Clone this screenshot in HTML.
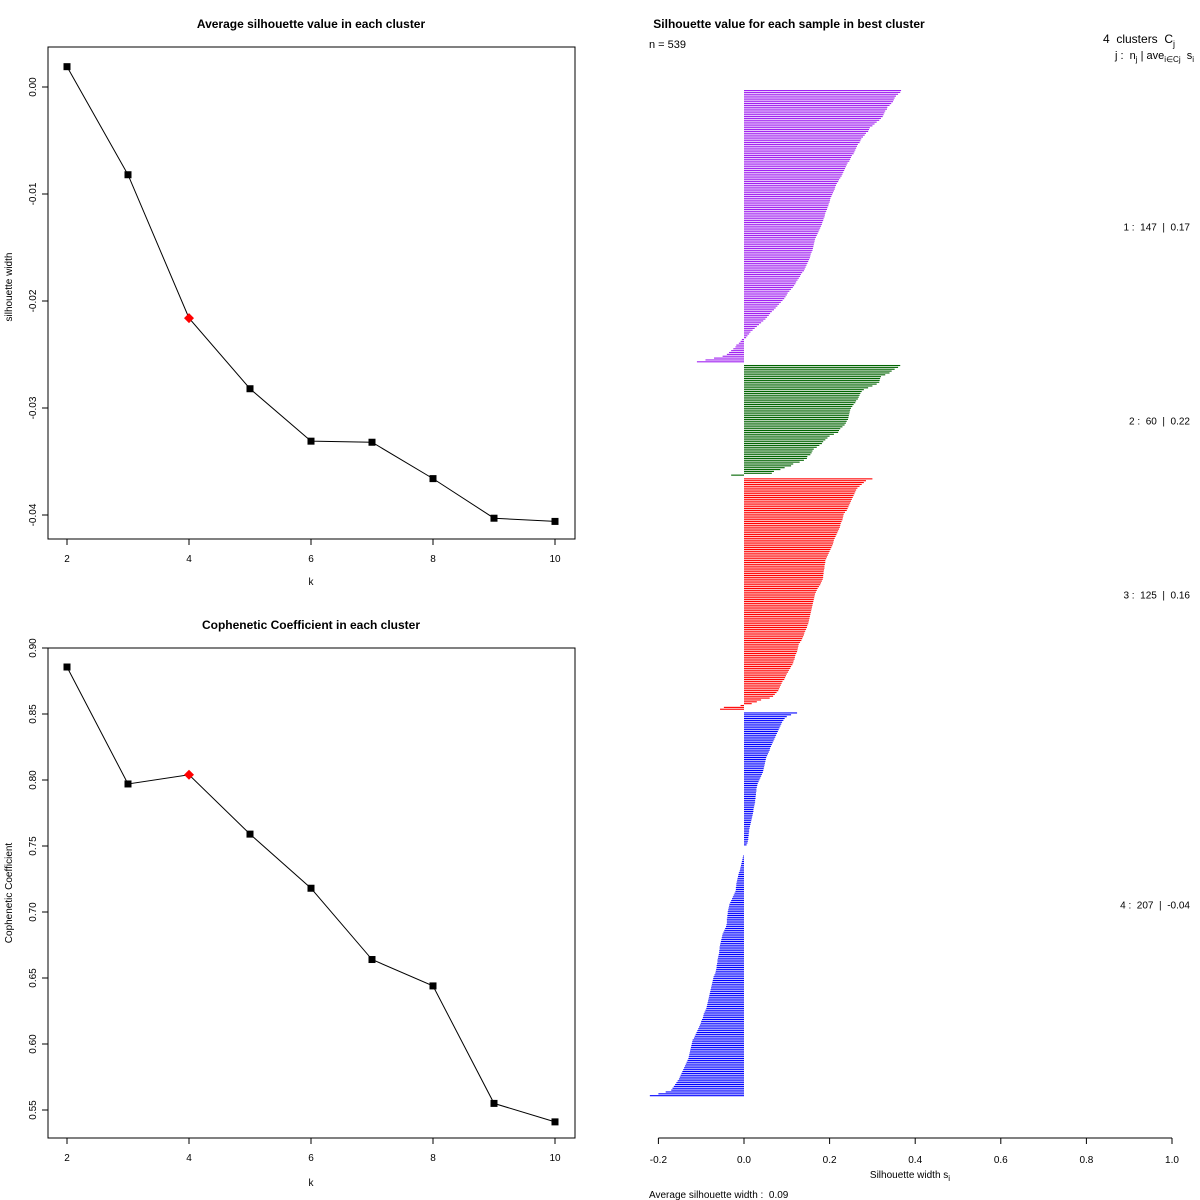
<!DOCTYPE html>
<html><head><meta charset="utf-8"><style>
html,body{margin:0;padding:0;background:#fff;}
svg{display:block;font-family:"Liberation Sans",Arial,sans-serif;}
</style></head><body>
<svg id="svg" width="1200" height="1200" viewBox="0 0 1200 1200" xmlns="http://www.w3.org/2000/svg">
<rect width="1200" height="1200" fill="#fff"/>
<text x="311" y="28" text-anchor="middle" font-size="12" font-weight="bold">Average silhouette value in each cluster</text>
<text x="311" y="629" text-anchor="middle" font-size="12" font-weight="bold">Cophenetic Coefficient in each cluster</text>
<text x="789" y="28" text-anchor="middle" font-size="12" font-weight="bold">Silhouette value for each sample in best cluster</text>
<text x="649" y="48" font-size="11">n = 539</text>
<text x="1103" y="43" font-size="12">4&#160; clusters&#160; C<tspan font-size="9" dy="4">j</tspan></text>
<text x="1115" y="59" font-size="11">j :&#160; n<tspan font-size="8" dy="3">j</tspan><tspan dy="-3"> | ave</tspan><tspan font-size="8" dy="3">i∈Cj</tspan><tspan dy="-3">&#160; s</tspan><tspan font-size="8" dy="3">i</tspan></text>
<text x="18" y="293" transform="rotate(-90 12 293)" text-anchor="middle" font-size="10">silhouette width</text>
<text x="311" y="585" text-anchor="middle" font-size="10">k</text>
<text x="12" y="893" transform="rotate(-90 12 893)" text-anchor="middle" font-size="10">Cophenetic Coefficient</text>
<text x="311" y="1186" text-anchor="middle" font-size="10">k</text>
<text x="910" y="1178" text-anchor="middle" font-size="10">Silhouette width s<tspan font-size="8" dy="3">i</tspan></text>
<text x="649" y="1198" font-size="10">Average silhouette width :&#160; 0.09</text>
<g id="g"></g>
</svg>
<script>
const ks = [2,3,4,5,6,7,8,9,10];
const silAvg = [0.0019,-0.0082,-0.0216,-0.0282,-0.0331,-0.0332,-0.0366,-0.0403,-0.0406];
const silTicks = [0,-0.01,-0.02,-0.03,-0.04];
const silTickLabels = ["0.00","-0.01","-0.02","-0.03","-0.04"];
const coph = [0.8856,0.797,0.804,0.759,0.718,0.664,0.644,0.555,0.541];
const cophTicks = [0.9,0.85,0.8,0.75,0.7,0.65,0.6,0.55];
const cophTickLabels = ["0.90","0.85","0.80","0.75","0.70","0.65","0.60","0.55"];
const kTicks = [2,4,6,8,10];
const bestK = 4;
const clusterNames = ["1","2","3","4"];
const clusterSizes = [147,60,125,207];
const clusterAvg = ["0.17","0.22","0.16","-0.04"];
const clusterColors = ["#a020f0","#006400","#ff0000","#0000ff"];
const sil1 = [.367,.365,.36,.355,.352,.35,.348,.344,.34,.335,.334,.33,.328,.326,.324,.32,.316,.31,.305,.3,.294,.292,.29,.285,.282,.278,.274,.272,.27,.266,.264,.262,.26,.258,.256,.252,.25,.248,.246,.242,.24,.238,.236,.234,.232,.23,.228,.225,.222,.22,.217,.215,.213,.212,.21,.208,.206,.204,.202,.201,.2,.198,.197,.195,.194,.192,.19,.189,.188,.186,.185,.183,.182,.18,.178,.176,.174,.172,.17,.168,.166,.165,.164,.163,.162,.161,.16,.158,.156,.155,.154,.152,.15,.148,.146,.144,.142,.14,.136,.133,.131,.128,.125,.122,.12,.117,.114,.11,.106,.102,.1,.097,.094,.09,.086,.082,.078,.074,.07,.065,.061,.058,.054,.05,.045,.04,.035,.03,.025,.02,.015,.012,.008,.005,-.005,-.008,-.012,-.018,-.02,-.025,-.03,-.035,-.04,-.05,-.07,-.09,-.11];
const sil2 = [.365,.36,.352,.345,.34,.33,.32,.318,.317,.316,.31,.3,.29,.28,.275,.272,.27,.268,.266,.262,.26,.256,.253,.25,.248,.247,.246,.245,.244,.243,.24,.238,.235,.23,.225,.222,.22,.21,.2,.195,.19,.185,.182,.176,.17,.163,.16,.158,.155,.148,.147,.14,.13,.115,.11,.095,.085,.07,.065,-.03];
const sil3 = [.30,.285,.28,.275,.27,.265,.262,.26,.258,.256,.254,.252,.25,.248,.246,.244,.242,.24,.236,.233,.232,.231,.23,.228,.226,.225,.224,.222,.22,.218,.216,.214,.212,.21,.209,.208,.206,.204,.202,.2,.198,.196,.194,.192,.19,.19,.189,.188,.188,.187,.186,.186,.185,.185,.184,.182,.18,.178,.175,.172,.17,.168,.166,.165,.164,.163,.162,.161,.16,.159,.158,.157,.156,.155,.154,.153,.152,.151,.15,.148,.147,.145,.143,.141,.14,.138,.136,.134,.131,.128,.127,.126,.125,.124,.122,.12,.119,.118,.116,.115,.113,.11,.108,.105,.103,.1,.098,.096,.094,.09,.088,.086,.084,.082,.08,.076,.072,.068,.06,.04,.03,.018,-.008,-.047,-.056];
const sil4 = [.124,.11,.1,.095,.092,.089,.087,.085,.083,.081,.079,.077,.075,.073,.071,.069,.067,.065,.063,.061,.06,.058,.056,.054,.052,.051,.05,.049,.048,.047,.046,.045,.044,.042,.04,.038,.036,.034,.032,.031,.03,.029,.029,.028,.028,.027,.027,.026,.026,.025,.024,.023,.022,.022,.021,.02,.019,.018,.017,.016,.015,.014,.013,.012,.012,.011,.011,.01,.01,.009,.008,.006,0,0,0,0,0,-.002,-.003,-.004,-.005,-.006,-.007,-.008,-.009,-.01,-.012,-.013,-.014,-.015,-.016,-.017,-.018,-.018,-.019,-.019,-.02,-.022,-.024,-.026,-.028,-.03,-.032,-.034,-.035,-.036,-.037,-.038,-.038,-.039,-.039,-.04,-.04,-.04,-.041,-.042,-.044,-.046,-.048,-.05,-.051,-.052,-.053,-.054,-.055,-.056,-.057,-.057,-.058,-.058,-.059,-.06,-.061,-.062,-.062,-.063,-.064,-.064,-.065,-.066,-.067,-.069,-.071,-.072,-.073,-.074,-.075,-.076,-.077,-.078,-.079,-.08,-.081,-.082,-.083,-.084,-.085,-.086,-.087,-.088,-.09,-.092,-.094,-.095,-.096,-.098,-.1,-.101,-.103,-.105,-.107,-.109,-.111,-.113,-.115,-.117,-.12,-.121,-.122,-.123,-.124,-.125,-.126,-.127,-.128,-.129,-.13,-.132,-.134,-.136,-.138,-.14,-.142,-.144,-.146,-.148,-.15,-.152,-.155,-.158,-.161,-.164,-.167,-.17,-.183,-.2,-.22];
const silXTicks = [-0.2,0,0.2,0.4,0.6,0.8,1.0];
const silXTickLabels = ["-0.2","0.0","0.2","0.4","0.6","0.8","1.0"];

const NS = "http://www.w3.org/2000/svg";
const g = document.getElementById('g');
function mk(tag, attrs, parent){ const e=document.createElementNS(NS,tag); for(const k in attrs) e.setAttribute(k,attrs[k]); (parent||g).appendChild(e); return e; }

function lineChart(name, box, yScale, values, yTicks, yLabels){
  const xS = k => 67 + (k-2)*61;
  const grp = mk('g',{});
  
  
  const frame = mk('rect',{x:box.x0,y:box.y0,width:box.x1-box.x0,height:box.y1-box.y0,fill:'none',stroke:'#000','stroke-width':1},grp);
  
  
  kTicks.forEach(k=>{
    const x=xS(k);
    mk('line',{x1:x,x2:x,y1:box.y1,y2:box.y1+6,stroke:'#000'},grp);
    const t=mk('text',{x:x,y:box.y1+23,'text-anchor':'middle','font-size':10},grp);
    t.textContent=k;
    
    
  });
  yTicks.forEach((v,i)=>{
    const y=yScale(v);
    mk('line',{x1:box.x0-6,x2:box.x0,y1:y,y2:y,stroke:'#000'},grp);
    const t=mk('text',{x:36,y:y,'text-anchor':'middle','font-size':10,transform:`rotate(-90 36 ${y})`},grp);
    t.textContent=yLabels[i];
    
    
  });
  const pts = ks.map((k,i)=>xS(k)+','+yScale(values[i])).join(' ');
  const pl = mk('polyline',{points:pts,fill:'none',stroke:'#000','stroke-width':1},grp);
  
  
  ks.forEach((k,i)=>{
    const x=xS(k), y=yScale(values[i]);
    let p;
    if(k===bestK){
      p=mk('polygon',{points:`${x},${y-5} ${x+5},${y} ${x},${y+5} ${x-5},${y}`,fill:'#ff0000'},grp);
    } else {
      p=mk('rect',{x:x-3.5,y:y-3.5,width:7,height:7,fill:'#000'},grp);
    }
    
    
  });
}
lineChart('silhouette-line-chart',{x0:48,x1:575,y0:47,y1:539}, v=>87-v*10700, silAvg, silTicks, silTickLabels);
lineChart('cophenetic-line-chart',{x0:48,x1:575,y0:648,y1:1138}, v=>648+(0.9-v)*1320, coph, cophTicks, cophTickLabels);

const sx = v => 744 + v*428;
const clusters=[sil1,sil2,sil3,sil4];
const total = clusters.reduce((a,c)=>a+c.length,0) + clusters.length-1;
const pitch = 1007/total;
const bars = mk('g',{});


const NB = '\u00a0';
let idx=0;
clusters.forEach((c,ci)=>{
  const startIdx=idx;
  c.forEach(v=>{
    const y = 90 + idx*pitch;
    const x0=Math.min(sx(0),sx(v)), w=Math.abs(sx(v)-sx(0));
    if(w>0){
      const r=mk('rect',{x:x0,y:y,width:w,height:1.1,fill:clusterColors[ci]},bars);
      
      
    }
    idx++;
  });
  const midY = 90 + (startIdx + c.length/2)*pitch;
  const t=mk('text',{x:1190,y:midY+4,'text-anchor':'end','font-size':10});
  t.textContent = clusterNames[ci] + ' :' + NB + ' ' + clusterSizes[ci] + NB + ' |' + NB + ' ' + clusterAvg[ci];
  
  
  idx++;
});
mk('line',{x1:sx(-0.2),x2:sx(1.0),y1:1138,y2:1138,stroke:'#000'});
silXTicks.forEach((v,i)=>{
  const x=sx(v);
  mk('line',{x1:x,x2:x,y1:1138,y2:1144,stroke:'#000'});
  const t=mk('text',{x:x,y:1163,'text-anchor':'middle','font-size':10});
  t.textContent=silXTickLabels[i];
  
  
});
</script>
</body></html>
